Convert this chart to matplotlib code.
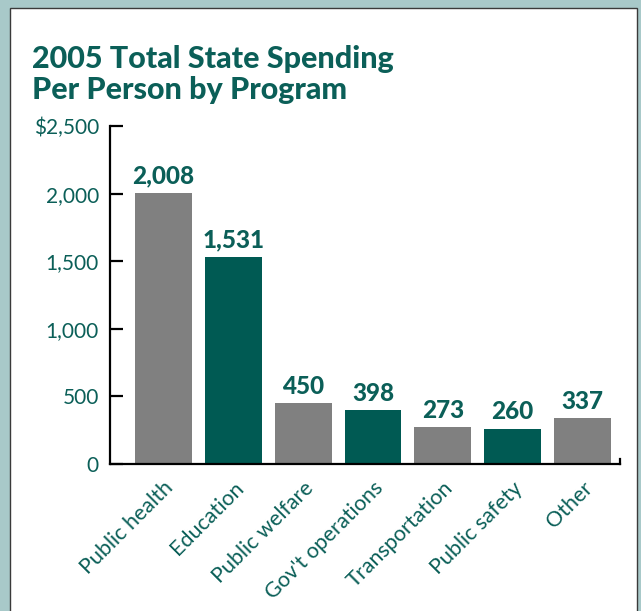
import numpy as np
import matplotlib.pyplot as plt
from matplotlib.patches import Rectangle

programs = ["Public health", "Education", "Public welfare", "Gov't operations",
            "Transportation", "Public safety", "Other"]
spending = [2008, 1531, 450, 398, 273, 260, 337]
value_labels = ["2,008", "1,531", "450", "398", "273", "260", "337"]
y_ticks = [0, 500, 1000, 1500, 2000, 2500]
y_tick_labels = ["0", "500", "1,000", "1,500", "2,000", "$2,500"]

teal = "#005a53"
gray = "#808080"
text_teal = "#0b5f58"

plt.rcParams['font.family'] = ['Lato', 'DejaVu Sans']

fig = plt.figure(figsize=(6.41, 6.11), dpi=100)
fig.patch.set_facecolor("#a8c9c9")

# white card behind the chart
card = Rectangle((10 / 641, -0.01), 627 / 641, 1 - 8 / 611 + 0.01,
                 transform=fig.transFigure, facecolor="white",
                 edgecolor="#3a3a3a", linewidth=1.0, zorder=-5)
fig.patches.append(card)

fig.text(32 / 641, 1 - 45 / 611, "2005 Total State Spending\nPer Person by Program",
         ha="left", va="top", fontsize=22, fontweight="black", color=text_teal,
         linespacing=1.15, zorder=3)

ax = fig.add_axes([110 / 641, 147 / 611, 510 / 641, 338 / 611])
ax.set_facecolor("none")
ax.set_zorder(2)

x = np.arange(len(programs))
colors = [gray if i % 2 == 0 else teal for i in range(len(programs))]
ax.bar(x, spending, width=0.814, color=colors, zorder=2)

for xi, v, lab in zip(x, spending, value_labels):
    ax.annotate(lab, (xi, v), xytext=(0, 4), textcoords="offset points",
                ha="center", va="bottom", fontsize=17.5, fontweight="black",
                color=text_teal)

ax.set_xlim(-0.764, 6.536)
ax.set_ylim(0, 2500)

ax.spines["top"].set_visible(False)
ax.spines["right"].set_bounds(0, 40)
for side in ["left", "bottom", "right"]:
    ax.spines[side].set_linewidth(1.6)
    ax.spines[side].set_color("black")

ax.set_yticks(y_ticks)
ax.set_yticklabels(y_tick_labels)
ax.tick_params(axis="y", direction="in", length=9, width=1.6, pad=8,
               labelsize=15, labelcolor=text_teal)

ax.set_xticks(x)
ax.set_xticklabels(programs, rotation=45, ha="right", va="top",
                   rotation_mode="anchor", fontsize=15.5, color=text_teal)
ax.tick_params(axis="x", length=0, pad=10)

fig.savefig("out.png", dpi=100, facecolor=fig.get_facecolor())
